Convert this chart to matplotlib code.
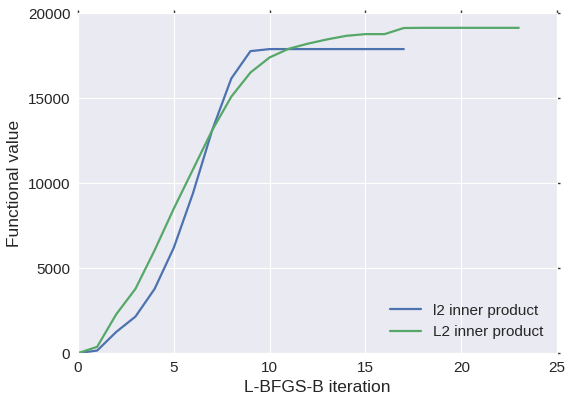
import matplotlib
matplotlib.use("Agg")
import matplotlib.pyplot as plt
import seaborn as sns

# functional value per L-BFGS-B iteration
l2_small = [0, 150, 1250, 2150, 3780, 6200, 9400, 13100, 16150, 17760,
            17880, 17880, 17880, 17880, 17880, 17880, 17880, 17880]
L2_big = [0, 370, 2290, 3780, 6050, 8500, 10800, 13100, 15080, 16500,
          17390, 17900, 18200, 18450, 18660, 18760, 18760, 19120,
          19130, 19130, 19130, 19130, 19130, 19130]
labels = ["l2 inner product", "L2 inner product"]

sns.set_style("darkgrid")
plt.rcParams["font.family"] = ["Liberation Sans", "DejaVu Sans"]
plt.rcParams["font.size"] = 11

fig = plt.figure(figsize=(5.65, 3.95), dpi=100)
ax = fig.add_axes([0.138, 0.106, 0.848, 0.861])
ax.plot(range(len(l2_small)), l2_small, color="#4C72B0", lw=1.6, label=labels[0])
ax.plot(range(len(L2_big)), L2_big, color="#55A868", lw=1.6, label=labels[1])
ax.set_xlim(0, 25)
ax.set_ylim(0, 20000)
ax.set_yticks([0, 5000, 10000, 15000, 20000])
ax.set_xlabel("L-BFGS-B iteration", fontsize=12.5)
ax.set_ylabel("Functional value", fontsize=12.5)
ax.tick_params(direction="out", length=2, width=1, color="#333333",
               top=True, right=True)
ax.legend(loc="lower right", frameon=False)
fig.savefig("out.png", dpi=100)
